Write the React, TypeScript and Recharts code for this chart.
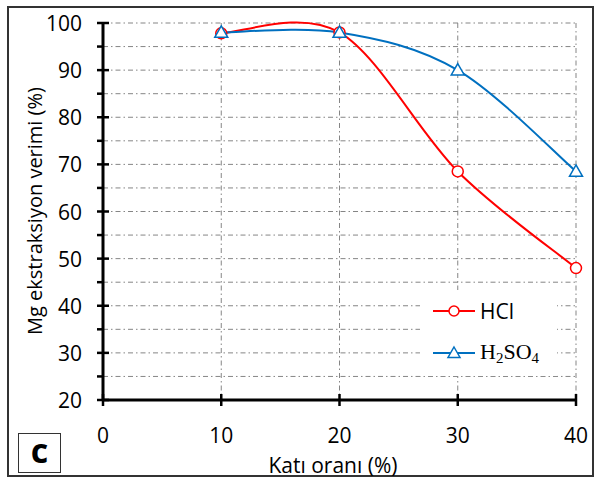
import * as React from "react";
import { LineChart, Line, XAxis, YAxis, CartesianGrid } from "recharts";

const solidRatio = [10, 20, 30, 40];
const hclYield = [97.8, 98, 68.5, 48];
const h2so4Yield = [98, 98, 90, 68.5];
const xTicks = [0, 10, 20, 30, 40];
const yTicks = [20, 25, 30, 35, 40, 45, 50, 55, 60, 65, 70, 75, 80, 85, 90, 95, 100];

const data = solidRatio.map((x, i) => ({ x, hcl: hclYield[i], h2so4: h2so4Yield[i] }));

const W = 596;
const H = 480;
const PLOT_LEFT = 103;
const PLOT_RIGHT = 576;
const PLOT_TOP = 23;
const PLOT_BOTTOM = 400;
const FONT = "'Open Sans', sans-serif";
const RED = "#ff0000";
const BLUE = "#0070c0";

// Excel-like smoothed line (Catmull-Rom through the points)
const smooth = (context: any) => {
  let pts: number[][] = [];
  return {
    areaStart() {},
    areaEnd() {},
    lineStart() {
      pts = [];
    },
    point(x: number, y: number) {
      pts.push([+x, +y]);
    },
    lineEnd() {
      if (!pts.length) return;
      context.moveTo(pts[0][0], pts[0][1]);
      for (let i = 0; i < pts.length - 1; i++) {
        const p0 = pts[Math.max(i - 1, 0)];
        const p1 = pts[i];
        const p2 = pts[i + 1];
        const p3 = pts[Math.min(i + 2, pts.length - 1)];
        context.bezierCurveTo(
          p1[0] + (p2[0] - p0[0]) / 6,
          p1[1] + (p2[1] - p0[1]) / 6,
          p2[0] - (p3[0] - p1[0]) / 6,
          p2[1] - (p3[1] - p1[1]) / 6,
          p2[0],
          p2[1]
        );
      }
    },
  };
};

const CircleDot = (props: any) => {
  const { cx, cy, index } = props;
  return <circle key={`c-${index}`} cx={cx} cy={cy} r={5.5} fill="#fff" stroke={RED} strokeWidth={1.5} />;
};

const TriangleDot = (props: any) => {
  const { cx, cy, index } = props;
  const s = 6.5;
  return (
    <path
      key={`t-${index}`}
      d={`M${cx},${cy - s} L${cx + s},${cy + s * 0.75} L${cx - s},${cy + s * 0.75} Z`}
      fill="#fff"
      stroke={BLUE}
      strokeWidth={1.5}
    />
  );
};

const YTick = ({ y, payload }: any) => {
  const v = payload.value;
  const major = v % 10 === 0;
  return (
    <g>
      <line
        x1={PLOT_LEFT - 6}
        x2={major ? PLOT_LEFT + 6 : PLOT_LEFT}
        y1={y}
        y2={y}
        stroke="#000"
        strokeWidth={2.5}
      />
      {major && (
        <text x={PLOT_LEFT - 21} y={y} textAnchor="end" dominantBaseline="central" fontFamily={FONT} fontSize={21} fill="#000">
          {v}
        </text>
      )}
    </g>
  );
};

const XTick = ({ x, payload }: any) => (
  <g>
    <line x1={x} x2={x} y1={PLOT_BOTTOM - 6} y2={PLOT_BOTTOM + 6} stroke="#000" strokeWidth={2.5} />
    <text x={x} y={PLOT_BOTTOM + 35} textAnchor="middle" dominantBaseline="central" fontFamily={FONT} fontSize={21} fill="#000">
      {payload.value}
    </text>
  </g>
);

const LegendBox = () => (
  <div style={{ position: "absolute", left: 420, top: 290, width: 137, height: 86, background: "#fff" }}>
    {[
      { label: <span style={{ fontFamily: FONT, fontSize: 21 }}>HCl</span>, color: RED, shape: "circle", top: 21 },
      {
        label: (
          <span style={{ fontFamily: "'Liberation Serif', serif", fontSize: 22 }}>
            H<sub style={{ fontSize: 15, verticalAlign: -4 }}>2</sub>SO<sub style={{ fontSize: 15, verticalAlign: -4 }}>4</sub>
          </span>
        ),
        color: BLUE,
        shape: "tri",
        top: 63,
      },
    ].map((e, i) => (
      <div key={i} style={{ position: "absolute", left: 13, top: e.top - 14, height: 28, display: "flex", alignItems: "center" }}>
        <svg width={42} height={20}>
          <line x1={0} x2={42} y1={10} y2={10} stroke={e.color} strokeWidth={2} />
          {e.shape === "circle" ? (
            <circle cx={21} cy={10} r={5} fill="#fff" stroke={e.color} strokeWidth={1.5} />
          ) : (
            <path d="M21,4 L27,14.5 L15,14.5 Z" fill="#fff" stroke={e.color} strokeWidth={1.5} />
          )}
        </svg>
        <div style={{ marginLeft: 5, color: "#000", lineHeight: 1 }}>{e.label}</div>
      </div>
    ))}
  </div>
);

export default function App() {
  return (
    <div style={{ position: "fixed", left: 0, top: 0, width: W, height: H, background: "#fff" }}>
      <div
        style={{
          position: "absolute",
          left: 7,
          top: 6,
          width: W - 9,
          height: H - 9,
          border: "2px solid #333",
          boxSizing: "border-box",
        }}
      />
      <LineChart
        width={W}
        height={H}
        data={data}
        margin={{ top: PLOT_TOP, right: W - PLOT_RIGHT, bottom: 40, left: PLOT_LEFT - 60 }}
      >
        <CartesianGrid stroke="#858585" strokeDasharray="5 3 1.5 3" strokeWidth={1} />
        <XAxis
          type="number"
          dataKey="x"
          domain={[0, 40]}
          ticks={xTicks}
          height={40}
          tickLine={false}
          axisLine={{ stroke: "#000", strokeWidth: 3 }}
          tick={<XTick />}
          label={{
            content: () => (
              <text x={333} y={465} textAnchor="middle" dominantBaseline="central" fontFamily={FONT} fontSize={21} fill="#000">
                Katı oranı (%)
              </text>
            ),
          }}
        />
        <YAxis
          type="number"
          domain={[20, 100]}
          ticks={yTicks}
          width={60}
          interval={0}
          tickLine={false}
          axisLine={{ stroke: "#000", strokeWidth: 3 }}
          tick={<YTick />}
          label={{
            content: () => (
              <text
                x={34}
                y={211}
                transform="rotate(-90 34 211)"
                textAnchor="middle"
                dominantBaseline="central"
                fontFamily={FONT}
                fontSize={20}
                fill="#000"
              >
                Mg ekstraksiyon verimi (%)
              </text>
            ),
          }}
        />
        <Line
          dataKey="hcl"
          name="HCl"
          type={smooth as any}
          stroke={RED}
          strokeWidth={2}
          dot={CircleDot}
          activeDot={false}
          isAnimationActive={false}
        />
        <Line
          dataKey="h2so4"
          name="H2SO4"
          type={smooth as any}
          stroke={BLUE}
          strokeWidth={2}
          dot={TriangleDot}
          activeDot={false}
          isAnimationActive={false}
        />
      </LineChart>
      <LegendBox />
      <div
        style={{
          position: "absolute",
          left: 18,
          top: 433,
          width: 43,
          height: 40,
          border: "1.5px solid #333",
          boxSizing: "border-box",
          display: "flex",
          alignItems: "center",
          justifyContent: "center",
          fontFamily: FONT,
          fontWeight: 700,
          fontSize: 34,
          lineHeight: 1,
          paddingBottom: 6,
        }}
      >
        c
      </div>
    </div>
  );
}
